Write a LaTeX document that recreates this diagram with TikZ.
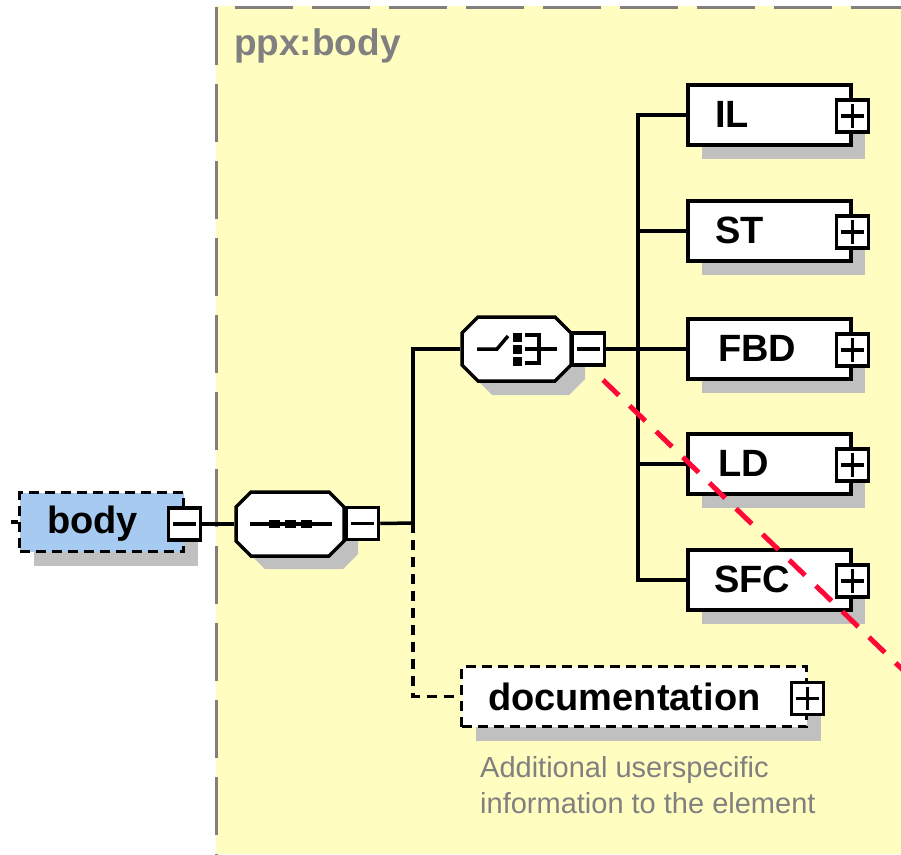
\documentclass[tikz,border=0pt]{standalone}
\usepackage{fontspec}
\setmainfont{Liberation Sans}
\usetikzlibrary{calc,shadows}
\definecolor{ylw}{RGB}{255,253,192}
\definecolor{bluefill}{RGB}{166,202,240}
\definecolor{shgray}{RGB}{192,192,192}
\definecolor{txtgray}{RGB}{128,128,128}
\definecolor{redann}{RGB}{255,8,56}
\newcommand\octashape[6]{\path[#6] (#1-#3/2+#5,#2-#4/2) -- (#1+#3/2-#5,#2-#4/2) -- (#1+#3/2,#2-#4/2+#5) -- (#1+#3/2,#2+#4/2-#5) -- (#1+#3/2-#5,#2+#4/2) -- (#1-#3/2+#5,#2+#4/2) -- (#1-#3/2,#2+#4/2-#5) -- (#1-#3/2,#2-#4/2+#5) -- cycle;}
\tikzset{
  box/.style={draw=black, line width=4pt, fill=white, minimum width=163pt, minimum height=60pt, inner sep=0pt,
    general shadow={fill=shgray, shadow xshift=14pt, shadow yshift=-14pt}},
  optbox/.style={box, dash pattern=on 10pt off 6pt},
  pm/.style={draw=black, line width=3.5pt, fill=white, minimum width=32pt, minimum height=32pt, inner sep=0pt},
  conn/.style={line width=3.5pt, draw=black},
  optconn/.style={conn, dash pattern=on 10pt off 7pt},
  lbl/.style={font=\fontsize{38}{40}\selectfont\bfseries, inner sep=0pt, anchor=base west},
  desc/.style={font=\fontsize{29}{34}\selectfont, text=txtgray, inner sep=0pt, anchor=base west},
  octline/.style={draw=black, line width=3.5pt, fill=white},
  octshadow/.style={fill=shgray},
  redline/.style={draw=redann, line width=5pt, dash pattern=on 22pt off 15pt},
  frame/.style={draw=txtgray, line width=3pt, dash pattern=on 58pt off 19pt}
}
\begin{document}
\begin{tikzpicture}[x=1pt,y=-1pt]
\useasboundingbox (0,0) rectangle (901,854);
\fill[white] (0,0) rectangle (901,854);
% yellow group area
\fill[ylw] (216,6) rectangle (901,854);
\draw[frame, dash phase=58pt] (216,7) -- (905,7);
\draw[frame] (216,7) -- (216,858);
\node[font=\fontsize{37}{40}\selectfont\bfseries, text=txtgray, inner sep=0pt, anchor=base west] (title) at (234,55) {ppx:body};

% body element
\node[optbox, fill=bluefill, minimum width=164pt, minimum height=59pt, line width=3.5pt] (body) at (101.5,522) {};
\node[lbl] (bodyt) at (47,533) {body};
\node[pm] (bodym) at (184.5,524) {};
\draw[conn] ($(bodym.west)+(6,0)$) -- ($(bodym.east)+(-6,0)$);
\coordinate (bin) at (11,522);
\draw[conn] (bin) -- (body.west);

% sequence compositor
\octashape{304}{537}{108}{64}{15}{octshadow}
\octashape{290}{524}{108}{64}{15}{octline}
\node[inner sep=0pt, minimum width=111pt, minimum height=66pt] (seq) at (290,524) {};
\draw[conn] ($(seq)+(-40,0)$) -- ($(seq)+(42,0)$);
\foreach \dx in {-16,0,16} \fill[black] ($(seq)+(\dx-5.5,-4)$) rectangle ($(seq)+(\dx+5.5,4)$);
\node[pm] (seqm) at (362.5,523.5) {};
\draw[conn] ($(seqm.west)+(6,0)$) -- ($(seqm.east)+(-6,0)$);
\draw[conn] (bodym.east) -- (seq.west);

% choice compositor
\octashape{530.5}{363}{109}{64}{16}{octshadow}
\octashape{516.5}{349}{109}{64}{16}{octline}
\node[inner sep=0pt, minimum width=112pt, minimum height=66pt] (ch) at (516.5,349) {};
\draw[conn] ($(ch)+(-39.5,0)$) -- ($(ch)+(-19.5,0)$) -- ($(ch)+(-8.5,-13)$);
\foreach \dy in {-12,0,12} \fill[black] ($(ch)+(-3.5,\dy-4.5)$) rectangle ($(ch)+(5.5,\dy+4.5)$);
\draw[conn] ($(ch)+(8.5,-14)$) -- ($(ch)+(22.5,-14)$) -- ($(ch)+(22.5,14)$) -- ($(ch)+(8.5,14)$);
\draw[conn] ($(ch)+(8.5,0)$) -- ($(ch)+(40.5,0)$);
\node[pm] (chm) at (588.5,349) {};
\draw[conn] ($(chm.west)+(6,0)$) -- ($(chm.east)+(-6,0)$);

% documentation element
\node[optbox, minimum width=345pt, minimum height=60pt, line width=3.5pt] (doc) at (634,696.5) {};
\node[lbl] (doct) at (488,710) {documentation};
\node[pm] (docp) at (807.5,698.5) {};
\draw[conn] ($(docp.west)+(6,0)$) -- ($(docp.east)+(-6,0)$);
\draw[conn] ($(docp.north)+(0,6)$) -- ($(docp.south)+(0,-6)$);
\node[desc] (desc1) at (480,777) {Additional userspecific};
\node[desc] (desc2) at (480,813) {information to the element};

% connectors of the sequence
\coordinate (j1) at (413,523);
\draw[conn] (seqm.east) -- (j1);
\draw[conn] (j1) |- (ch.west);
\draw[optconn] (j1) |- (doc.west);

% children of the choice
\coordinate (j2) at (638,349);
\draw[conn] (chm.east) -- (j2);
\foreach \n/\y/\tx in {IL/115/715, ST/231/715, FBD/349/718, LD/464/718, SFC/580/714} {
  \node[box] (\n) at (769.5,\y) {};
  \node[lbl] (\n t) at (\tx,\y+12) {\n};
  \node[pm] (\n p) at (852.5,\y+1) {};
  \draw[conn] ($(\n p.west)+(6,0)$) -- ($(\n p.east)+(-6,0)$);
  \draw[conn] ($(\n p.north)+(0,6)$) -- ($(\n p.south)+(0,-6)$);
  \draw[conn] (j2) |- (\n.west);
}

% red annotation line
\coordinate (r1) at (603,380);
\coordinate (r2) at (905,672);
\draw[redline] (r1) -- (r2);
\end{tikzpicture}
\end{document}
